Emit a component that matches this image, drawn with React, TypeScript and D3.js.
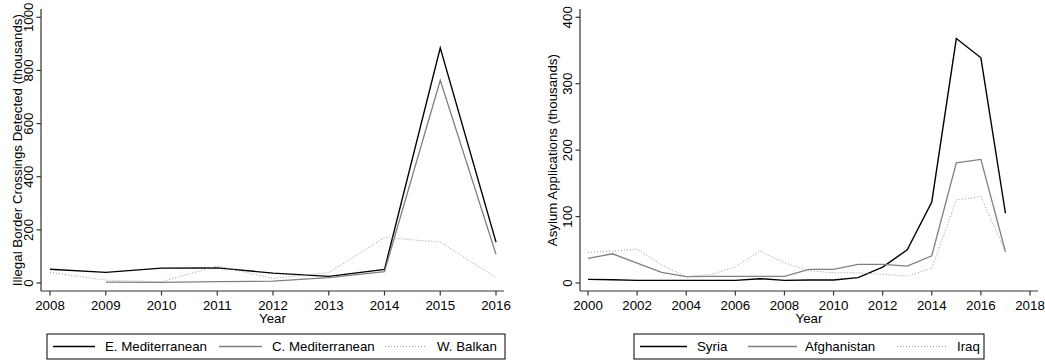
import React from "react";
import * as d3 from "d3";

// ---------- data ----------
const yearsBorder = [2008, 2009, 2010, 2011, 2012, 2013, 2014, 2015, 2016];
const eMediterranean = [52, 40, 56, 57, 37, 25, 51, 885, 154];
const cMediterranean: (number | null)[] = [null, 3, 2, 5, 7, 20, 43, 763, 108];
const wBalkan = [40, 11, 4.5, 64, 17, 39, 171, 154, 20];
const borderYTicks = [0, 200, 400, 600, 800, 1000];
const borderXTicks = [2008, 2009, 2010, 2011, 2012, 2013, 2014, 2015, 2016];

const yearsAsylum = [2000, 2001, 2002, 2003, 2004, 2005, 2006, 2007, 2008, 2009, 2010, 2011, 2012, 2013, 2014, 2015, 2016, 2017];
const syria = [5.5, 5, 4, 4, 4, 4, 4, 6.5, 4, 4.5, 4.5, 8, 24, 50, 122, 368, 339, 105];
const afghanistan = [37, 44, 30, 16, 9.5, 10, 10, 10, 10, 20.5, 20.5, 28, 28, 25.5, 41, 181, 186, 47];
const iraq = [46, 48, 51, 27, 9.5, 13, 24, 48, 30.5, 18.5, 15.5, 15.5, 13, 10.5, 22, 125, 130, 47];
const asylumYTicks = [0, 100, 200, 300, 400];
const asylumXTicks = [2000, 2002, 2004, 2006, 2008, 2010, 2012, 2014, 2016, 2018];

const FONT = "'Liberation Sans', Arial, Helvetica, sans-serif";
const FS = 13.3;
const AXIS_COLOR = "#333";

type Series = { name: string; values: (number | null)[]; stroke: string; width: number; dash?: string };

type PanelProps = {
  years: number[];
  series: Series[];
  xDomain: [number, number];
  xRange: [number, number];
  yDomain: [number, number];
  yRange: [number, number];
  xTicks: number[];
  yTicks: number[];
  axisX: [number, number];
  axisY: [number, number];
  yTitle: string;
  yTickBaseline: number;
  yTitleBaseline: number;
  legendBox: [number, number, number, number];
  legendItems: { x0: number; x1: number; tx: number }[];
};

function Panel(p: PanelProps) {
  const x = d3.scaleLinear().domain(p.xDomain).range(p.xRange);
  const y = d3.scaleLinear().domain(p.yDomain).range(p.yRange);
  const line = d3
    .line<[number, number | null]>()
    .defined((d) => d[1] !== null)
    .x((d) => x(d[0]))
    .y((d) => y(d[1] as number));
  const [ax0, ax1] = p.axisX;
  const [ay0, ay1] = p.axisY;
  const yMid = (y(p.yDomain[0]) + y(p.yDomain[1])) / 2;
  const xMid = (ax0 + ax1) / 2;
  const [lx, ly, lw, lh] = p.legendBox;
  const legendMidY = ly + lh / 2;
  return (
    <g>
      {p.series.map((s) => (
        <path
          key={s.name}
          d={line(p.years.map((yr, i) => [yr, s.values[i]] as [number, number | null])) || ""}
          fill="none"
          stroke={s.stroke}
          strokeWidth={s.width}
          strokeDasharray={s.dash}
          strokeLinejoin="miter"
        />
      ))}
      {/* axes */}
      <line x1={ax0} x2={ax0} y1={ay0} y2={ay1} stroke={AXIS_COLOR} strokeWidth={1.2} />
      <line x1={ax0} x2={ax1} y1={ay1} y2={ay1} stroke={AXIS_COLOR} strokeWidth={1.2} />
      {p.yTicks.map((t) => (
        <g key={"y" + t}>
          <line x1={ax0 - 4.5} x2={ax0} y1={y(t)} y2={y(t)} stroke={AXIS_COLOR} strokeWidth={1.2} />
          <text
            transform={`translate(${p.yTickBaseline},${y(t)}) rotate(-90)`}
            textAnchor="middle"
            fontSize={FS}
            fontFamily={FONT}
            fill="#000"
          >
            {t}
          </text>
        </g>
      ))}
      {p.xTicks.map((t) => (
        <g key={"x" + t}>
          <line x1={x(t)} x2={x(t)} y1={ay1} y2={ay1 + 4.5} stroke={AXIS_COLOR} strokeWidth={1.2} />
          <text x={x(t)} y={310} textAnchor="middle" fontSize={FS} fontFamily={FONT} fill="#000">
            {t}
          </text>
        </g>
      ))}
      <text x={xMid} y={323} textAnchor="middle" fontSize={FS} fontFamily={FONT} fill="#000">
        Year
      </text>
      <text
        transform={`translate(${p.yTitleBaseline},${yMid}) rotate(-90)`}
        textAnchor="middle"
        fontSize={FS}
        fontFamily={FONT}
        fill="#000"
      >
        {p.yTitle}
      </text>
      {/* legend */}
      <rect x={lx} y={ly} width={lw} height={lh} fill="#fff" stroke="#000" strokeWidth={1} />
      {p.series.map((s, i) => {
        const it = p.legendItems[i];
        return (
          <g key={"l" + s.name}>
            <line
              x1={it.x0}
              x2={it.x1}
              y1={legendMidY}
              y2={legendMidY}
              stroke={s.stroke}
              strokeWidth={s.width}
              strokeDasharray={s.dash}
            />
            <text x={it.tx} y={legendMidY + 4.7} fontSize={FS} fontFamily={FONT} fill="#000">
              {s.name}
            </text>
          </g>
        );
      })}
    </g>
  );
}

export default function App() {
  const borderSeries: Series[] = [
    { name: "E. Mediterranean", values: eMediterranean, stroke: "#000", width: 1.4 },
    { name: "C. Mediterranean", values: cMediterranean, stroke: "#808080", width: 1.3 },
    { name: "W. Balkan", values: wBalkan, stroke: "#9a9a9a", width: 1, dash: "1 2" },
  ];
  const asylumSeries: Series[] = [
    { name: "Syria", values: syria, stroke: "#000", width: 1.4 },
    { name: "Afghanistan", values: afghanistan, stroke: "#808080", width: 1.3 },
    { name: "Iraq", values: iraq, stroke: "#9a9a9a", width: 1, dash: "1 2" },
  ];
  return (
    <svg
      width={1045}
      height={362}
      style={{ position: "absolute", left: 0, top: 0, display: "block", background: "#fff" }}
    >
      <rect x={0} y={0} width={1045} height={362} fill="#fff" />
      <Panel
        years={yearsBorder}
        series={borderSeries}
        xDomain={[2008, 2016]}
        xRange={[50, 496]}
        yDomain={[0, 1000]}
        yRange={[283, 17.3]}
        xTicks={borderXTicks}
        yTicks={borderYTicks}
        axisX={[41, 504]}
        axisY={[9, 291]}
        yTitle="Illegal Border Crossings Detected (thousands)"
        yTickBaseline={33}
        yTitleBaseline={22}
        legendBox={[47, 334, 458, 25]}
        legendItems={[
          { x0: 53, x1: 95, tx: 105 },
          { x0: 219, x1: 262, tx: 272 },
          { x0: 385, x1: 427, tx: 437 },
        ]}
      />
      <Panel
        years={yearsAsylum}
        series={asylumSeries}
        xDomain={[2000, 2018]}
        xRange={[588, 1030]}
        yDomain={[0, 400]}
        yRange={[283, 17.3]}
        xTicks={asylumXTicks}
        yTicks={asylumYTicks}
        axisX={[580, 1038]}
        axisY={[9, 291]}
        yTitle="Asylum Applications (thousands)"
        yTickBaseline={572}
        yTitleBaseline={557}
        legendBox={[634, 334, 350, 25]}
        legendItems={[
          { x0: 640, x1: 687, tx: 697 },
          { x0: 748, x1: 797, tx: 805 },
          { x0: 897, x1: 947, tx: 957 },
        ]}
      />
    </svg>
  );
}
